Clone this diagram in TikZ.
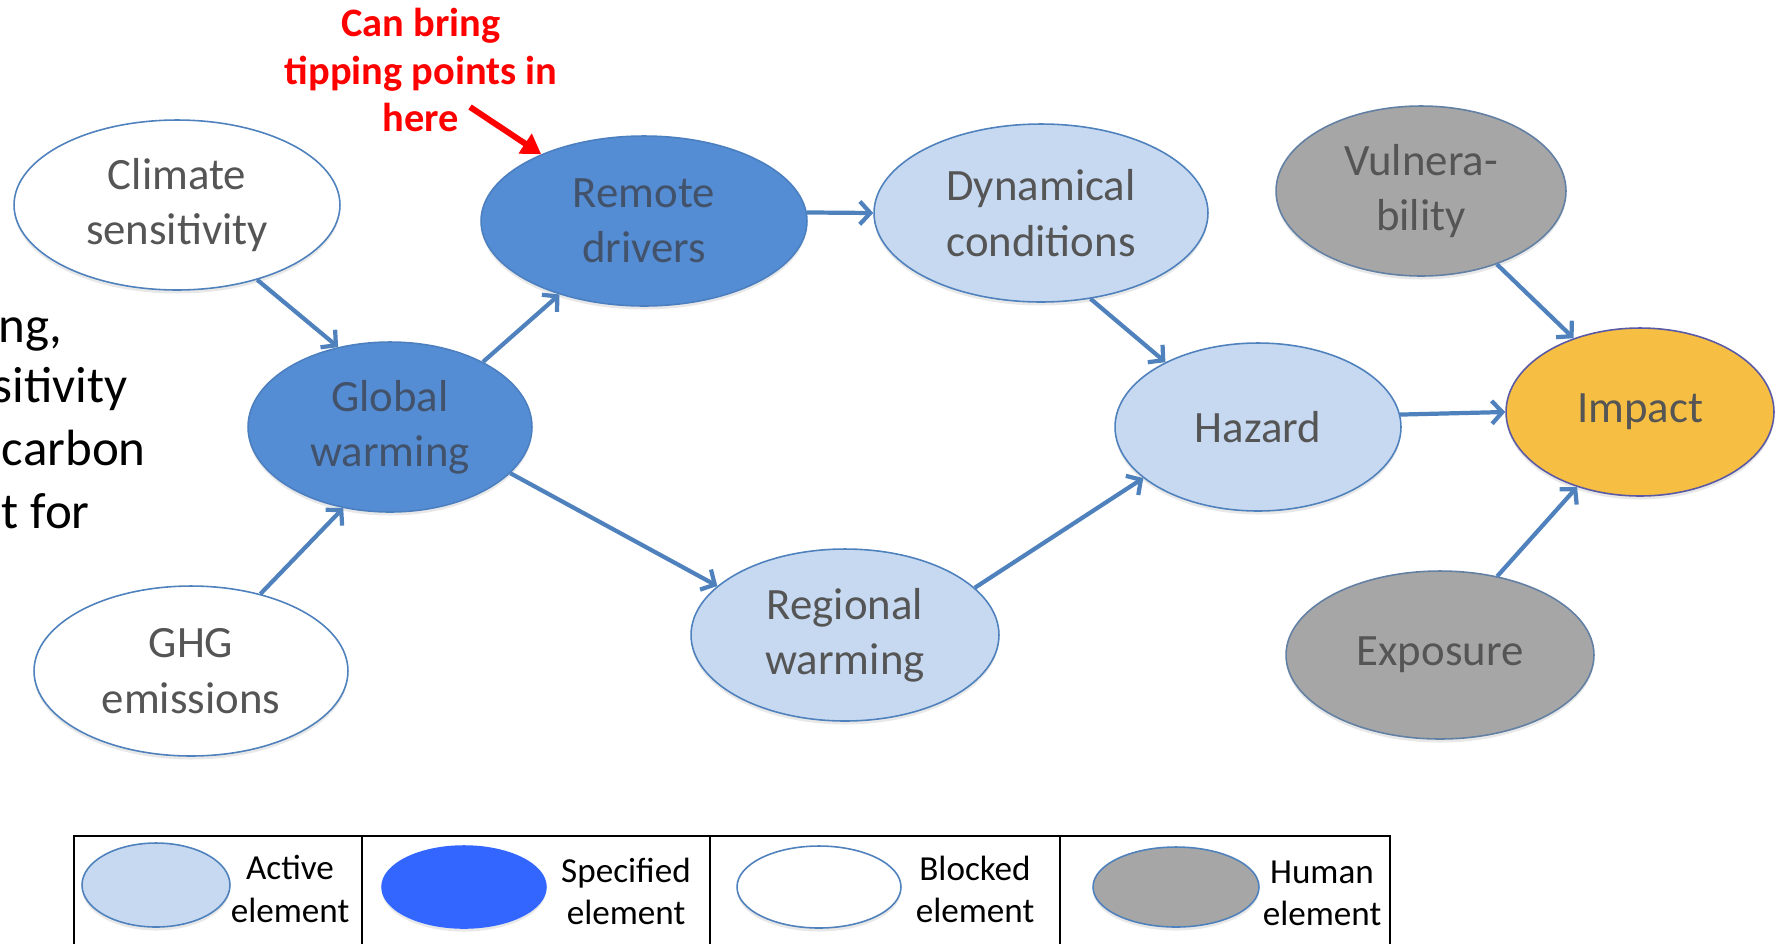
\documentclass[tikz,border=0pt]{standalone}
\usepackage{fontspec}
\setmainfont{Carlito}
\usetikzlibrary{arrows.meta,shapes.geometric,shadows}
\definecolor{edgeblue}{RGB}{79,129,189}
\definecolor{activefill}{RGB}{198,217,241}
\definecolor{specfill}{RGB}{84,141,212}
\definecolor{humanfill}{RGB}{166,166,166}
\definecolor{impactfill}{RGB}{246,190,66}
\definecolor{keyblue}{RGB}{51,102,255}
\definecolor{labelgray}{RGB}{85,85,85}
\definecolor{speclabel}{RGB}{66,82,106}
\tikzset{
  elem/.style={ellipse,draw=edgeblue,line width=0.9pt,inner sep=0pt,align=center,
    font=\fontsize{25.5}{31.5}\selectfont,text=labelgray,
    drop shadow={opacity=0.18,shadow xshift=0pt,shadow yshift=-2pt}},
  active/.style={elem,fill=activefill},
  specified/.style={elem,fill=specfill,draw=specfill!90!black,text=speclabel},
  blocked/.style={elem,fill=white},
  human/.style={elem,fill=humanfill,draw=edgeblue!60!gray},
  impact/.style={elem,fill=impactfill,draw=gray!70!blue},
  link/.style={draw=edgeblue,line width=2.4pt,-{Straight Barb[length=6pt,width=13pt]}},
  keyshape/.style={ellipse,draw=edgeblue,line width=0.9pt,inner sep=0pt,
    drop shadow={opacity=0.18,shadow xshift=0pt,shadow yshift=-2pt}},
  keytext/.style={align=center,font=\fontsize{20}{24}\selectfont},
  cuttext/.style={anchor=base east,inner sep=0pt,font=\fontsize{29}{36}\selectfont}
}
\begin{document}
\begin{tikzpicture}[x=0.02cm,y=-0.02cm]
  \useasboundingbox (0,0) rectangle (1784,944);
  \node[cuttext] (cut1) at (63,342) {ng,};
  \node[cuttext] (cut2) at (128,402) {sitivity};
  \node[cuttext] (cut3) at (146,465) {carbon};
  \node[cuttext] (cut4) at (90,528) {t for};
  \node[blocked,minimum width=6.52cm,minimum height=3.4cm] (clim) at (177,205) {Climate\\sensitivity};
  \node[blocked,minimum width=6.28cm,minimum height=3.4cm] (ghg) at (191,671) {GHG\\emissions};
  \node[specified,minimum width=5.68cm,minimum height=3.4cm] (glob) at (390,427) {Global\\warming};
  \node[specified,minimum width=6.52cm,minimum height=3.4cm] (remote) at (644,221) {Remote\\drivers};
  \node[active,minimum width=6.68cm,minimum height=3.56cm] (dyn) at (1041,213) {Dynamical\\conditions};
  \node[active,minimum width=6.16cm,minimum height=3.44cm] (reg) at (845,635) {Regional\\warming};
  \node[active,minimum width=5.72cm,minimum height=3.36cm] (haz) at (1258,427) {Hazard};
  \node[human,minimum width=5.8cm,minimum height=3.4cm] (vul) at (1421,191) {Vulnera-\\bility};
  \node[impact,minimum width=5.36cm,minimum height=3.36cm] (imp) at (1640,412) {Impact};
  \node[human,minimum width=6.16cm,minimum height=3.36cm] (expo) at (1440,655) {Exposure};

  \draw[link] (clim.-43) -- (glob.123);
  \draw[link] (ghg.48) -- (glob.240);
  \draw[link] (glob.35) -- (remote.221);
  \draw[link] (glob.-21) -- (reg.159);
  \draw[link] (remote.3) -- (dyn.180);
  \draw[link] (dyn.-60) -- (haz.145);
  \draw[link] (reg.20) -- (haz.204);
  \draw[link] (haz.5) -- (imp.180);
  \draw[link] (vul.-44) -- (imp.132);
  \draw[link] (expo.54) -- (imp.230);

  \node[font=\bfseries\fontsize{23}{27}\selectfont,text=red,align=center] (note) at (421,70) {Can bring\\tipping points in\\here};
  \coordinate (notetail) at (470,107);
  \draw[red,line width=3.4pt,-{Triangle[length=11pt,width=13pt]}] (notetail) -- (remote.147);

  \draw[line width=1.5pt] (74,944) -- (74,836) -- (1390,836) -- (1390,944);
  \foreach \x in {362,710,1060}
    \draw[line width=1.5pt] (\x,836) -- (\x,944);
  \node[keyshape,fill=activefill,minimum width=2.96cm,minimum height=1.68cm] (keyactive) at (156,885) {};
  \node[keyshape,fill=keyblue,draw=keyblue,minimum width=3.28cm,minimum height=1.64cm] (keyspec) at (464,887) {};
  \node[keyshape,fill=white,minimum width=3.28cm,minimum height=1.64cm] (keyblock) at (819,887) {};
  \node[keyshape,fill=humanfill,minimum width=3.32cm,minimum height=1.6cm] (keyhuman) at (1176,887) {};
  \node[keytext] (txtactive) at (290,889) {Active\\element};
  \node[keytext] (txtspec) at (626,891) {Specified\\element};
  \node[keytext] (txtblock) at (975,889) {Blocked\\element};
  \node[keytext] (txthuman) at (1322,893) {Human\\element};
\end{tikzpicture}
\end{document}
